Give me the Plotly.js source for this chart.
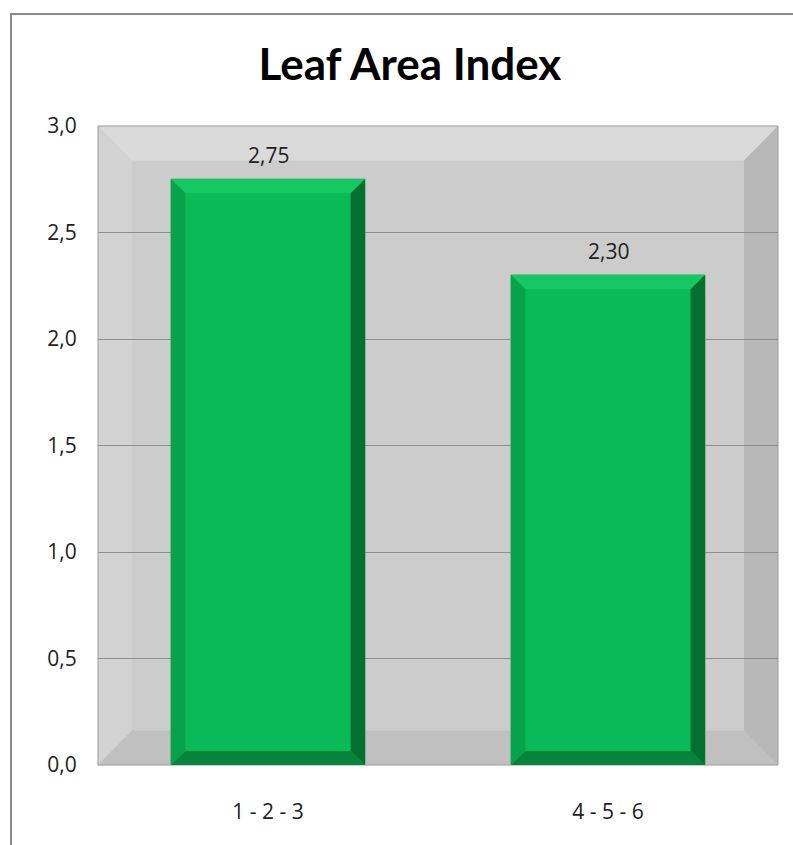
<!DOCTYPE html>
<html>
<head>
<meta charset="utf-8">
<script src="https://cdn.plot.ly/plotly-3.0.1.min.js"></script>
<style>
  body { margin: 0; background: #ffffff; }
  #frame { position: absolute; left: 10px; top: 13px; width: 820px; height: 860px; border: 2px solid #8a8a8a; }
  #chart { position: absolute; left: 0; top: 0; width: 793px; height: 845px; }
</style>
</head>
<body>
<div id="frame"></div>
<div id="chart"></div>
<script>
const categories = ['1 - 2 - 3', '4 - 5 - 6'];
const leafAreaIndex = [2.75, 2.30];
const yTicks = [0, 0.5, 1, 1.5, 2, 2.5, 3];

const positions = categories.map((c, i) => i);
const barWidth = 0.57;

// bevel sizes (axis units)
const bx = 0.042;
const by = 0.066;

const barTrace = {
    x: positions,
    y: leafAreaIndex,
    type: 'bar',
    width: barWidth,
    marker: {color: '#0aba58', line: {color: '#0a9c4a', width: 1}},
    hoverinfo: 'skip',
    showlegend: false
};

// plot area bevel frame (paper coords)
const tx = 0.05, ty = 0.054;
const frameShapes = [
    {path: `M0,1 L1,1 L${1 - tx},${1 - ty} L${tx},${1 - ty} Z`, fill: '#dadada'},
    {path: `M0,0 L0,1 L${tx},${1 - ty} L${tx},${ty} Z`, fill: '#d2d2d2'},
    {path: `M1,0 L1,1 L${1 - tx},${1 - ty} L${1 - tx},${ty} Z`, fill: '#b8b8b8'},
    {path: `M0,0 L1,0 L${1 - tx},${ty} L${tx},${ty} Z`, fill: '#c0c0c0'}
].map(s => ({
    type: 'path', xref: 'paper', yref: 'paper', path: s.path,
    fillcolor: s.fill, line: {width: 0}, layer: 'below'
}));
frameShapes.push({
    type: 'rect', xref: 'paper', yref: 'paper', x0: 0, x1: 1, y0: 0, y1: 1,
    line: {color: '#9a9a9a', width: 1}, fillcolor: 'rgba(0,0,0,0)', layer: 'above'
});

// bevels on each bar
const barShapes = [];
positions.forEach((p, i) => {
    const x0 = p - barWidth / 2, x1 = p + barWidth / 2;
    const y0 = 0, y1 = leafAreaIndex[i];
    const parts = [
        {path: `M${x0},${y1} L${x1},${y1} L${x1 - bx},${y1 - by} L${x0 + bx},${y1 - by} Z`, fill: '#16c862'},
        {path: `M${x0},${y0} L${x0},${y1} L${x0 + bx},${y1 - by} L${x0 + bx},${y0 + by} Z`, fill: '#08a24c'},
        {path: `M${x1},${y0} L${x1},${y1} L${x1 - bx},${y1 - by} L${x1 - bx},${y0 + by} Z`, fill: '#056f2f'},
        {path: `M${x0},${y0} L${x1},${y0} L${x1 - bx},${y0 + by} L${x0 + bx},${y0 + by} Z`, fill: '#08833c'}
    ];
    parts.forEach(s => barShapes.push({
        type: 'path', xref: 'x', yref: 'y', path: s.path,
        fillcolor: s.fill, line: {width: 0}, layer: 'above'
    }));
});

const labels = positions.map((p, i) => ({
    x: p, y: leafAreaIndex[i], xref: 'x', yref: 'y',
    text: leafAreaIndex[i].toFixed(2).replace('.', ','),
    showarrow: false, yanchor: 'bottom', yshift: 8,
    font: {family: 'Open Sans, sans-serif', size: 21, color: '#222222'}
}));

const layout = {
    width: 793,
    height: 845,
    margin: {l: 98, r: 15, t: 126, b: 80},
    paper_bgcolor: 'rgba(0,0,0,0)',
    plot_bgcolor: '#cccccc',
    separators: ',.',
    title: {
        text: '<b>Leaf Area Index</b>',
        x: 0.517, xanchor: 'center',
        y: 0.923, yanchor: 'middle',
        font: {family: 'Lato, sans-serif', size: 44, color: '#000000'}
    },
    xaxis: {
        range: [-0.5, 1.5],
        tickvals: positions,
        ticktext: categories,
        showgrid: false,
        zeroline: false,
        showline: false,
        ticks: 'outside',
        ticklen: 28,
        tickcolor: 'rgba(0,0,0,0)',
        tickfont: {family: 'Open Sans, sans-serif', size: 21, color: '#222222'},
        fixedrange: true
    },
    yaxis: {
        range: [0, 3],
        tickvals: yTicks,
        tickformat: '.1f',
        showgrid: true,
        gridcolor: '#8e8e8e',
        gridwidth: 1,
        zeroline: false,
        showline: false,
        ticks: 'outside',
        ticklen: 16,
        tickcolor: 'rgba(0,0,0,0)',
        tickfont: {family: 'Open Sans, sans-serif', size: 21, color: '#222222'},
        fixedrange: true
    },
    shapes: frameShapes.concat(barShapes),
    annotations: labels,
    bargap: 0
};

Plotly.newPlot('chart', [barTrace], layout, {displayModeBar: false, staticPlot: true});
</script>
</body>
</html>
